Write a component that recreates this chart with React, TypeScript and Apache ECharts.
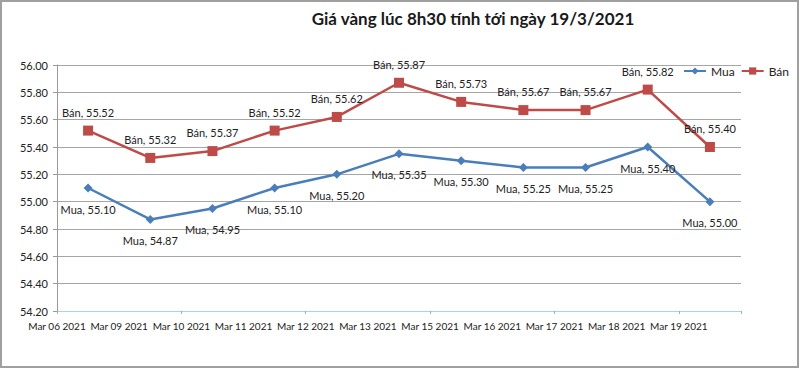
import React, { useEffect, useRef } from "react";
import * as echarts from "echarts";

const categories = [
  "Mar 06 2021",
  "Mar 09 2021",
  "Mar 10 2021",
  "Mar 11 2021",
  "Mar 12 2021",
  "Mar 13 2021",
  "Mar 15 2021",
  "Mar 16 2021",
  "Mar 17 2021",
  "Mar 18 2021",
  "Mar 19 2021",
];
const muaValues = [55.1, 54.87, 54.95, 55.1, 55.2, 55.35, 55.3, 55.25, 55.25, 55.4, 55.0];
const banValues = [55.52, 55.32, 55.37, 55.52, 55.62, 55.87, 55.73, 55.67, 55.67, 55.82, 55.4];
const yMin = 54.2;
const yMax = 56.0;
const yStep = 0.2;
const titleText = "Giá vàng lúc 8h30 tính tới ngày 19/3/2021";

const FONT = "Lato, 'Open Sans', sans-serif";

export default function App() {
  const ref = useRef<HTMLDivElement>(null);
  useEffect(() => {
    if (!ref.current) return;
    const chart = echarts.init(ref.current, undefined, { renderer: "svg" });
    const labelFmt = (p: any) => `${p.seriesName}, ${Number(p.value).toFixed(2)}`;
    chart.setOption({
      animation: false,
      backgroundColor: "#ffffff",
      textStyle: { fontFamily: FONT },
      title: {
        text: titleText,
        left: 468,
        top: 5,
        textAlign: "center",
        textStyle: { fontFamily: FONT, fontSize: 17, fontWeight: "bold", color: "#1a1a1a" },
      },
      legend: {
        right: 6,
        top: 60,
        itemWidth: 22,
        itemHeight: 9,
        itemGap: 6,
        textStyle: { fontFamily: FONT, fontSize: 12, color: "#222" },
        data: ["Mua", "Bán"],
      },
      grid: { left: 57, right: 59, top: 65, bottom: 59, containLabel: false },
      xAxis: [
        {
          type: "category",
          position: "bottom",
          data: categories,
          boundaryGap: true,
          axisLine: { lineStyle: { color: "#9fdade", width: 1 } },
          axisTick: { show: true, length: 3, lineStyle: { color: "#aaaaaa" } },
          axisLabel: { show: false },
          splitLine: { show: false },
        },
        {
          type: "category",
          position: "bottom",
          data: [...categories, ""],
          boundaryGap: false,
          axisLine: { show: false },
          axisTick: { show: false },
          axisLabel: { show: true, interval: 0, fontSize: 10, color: "#222", margin: 10, fontFamily: FONT },
          splitLine: { show: false },
        },
      ],
      yAxis: {
        type: "value",
        min: yMin,
        max: yMax,
        interval: yStep,
        axisLine: { show: true, lineStyle: { color: "#999999" } },
        axisTick: { show: true, length: 4, lineStyle: { color: "#999999" } },
        axisLabel: {
          fontSize: 11,
          color: "#222",
          margin: 9,
          fontFamily: FONT,
          formatter: (v: number) => v.toFixed(2),
        },
        splitLine: { show: true, lineStyle: { color: "#a6a6a6", width: 1 } },
      },
      series: [
        {
          name: "Mua",
          type: "line",
          xAxisIndex: 0,
          data: muaValues,
          symbol: "diamond",
          symbolSize: 9,
          lineStyle: { color: "#4a7ebb", width: 2.5 },
          itemStyle: { color: "#4a7ebb" },
          label: {
            show: true,
            position: "bottom",
            distance: 11,
            fontSize: 11,
            color: "#222",
            fontFamily: FONT,
            formatter: labelFmt,
          },
        },
        {
          name: "Bán",
          type: "line",
          xAxisIndex: 0,
          data: banValues,
          symbol: "rect",
          symbolSize: 10,
          lineStyle: { color: "#be4b48", width: 2.5 },
          itemStyle: { color: "#be4b48" },
          label: {
            show: true,
            position: "top",
            distance: 8,
            fontSize: 11,
            color: "#222",
            fontFamily: FONT,
            formatter: labelFmt,
          },
        },
      ],
      graphic: [
        {
          type: "rect",
          shape: { x: 1, y: 1, width: 797, height: 366 },
          style: { fill: "none", stroke: "#a0a0a0", lineWidth: 2 },
          silent: true,
        },
      ],
    });
    return () => chart.dispose();
  }, []);
  return (
    <div
      ref={ref}
      style={{ position: "absolute", left: 0, top: 0, width: 800, height: 370 }}
    />
  );
}
